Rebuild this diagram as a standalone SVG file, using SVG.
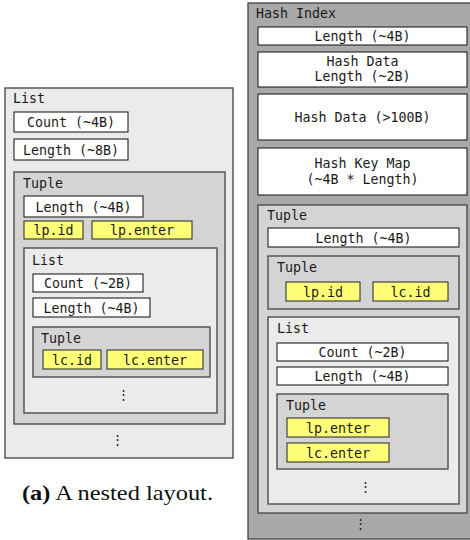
<svg xmlns="http://www.w3.org/2000/svg" width="470" height="540" viewBox="0 0 470 540">
<style>
.bg{fill:#ffffff}
.l1{fill:#ebebeb;stroke:#4d4d4d;stroke-width:1.4}
.t1{fill:#d4d4d4;stroke:#4d4d4d;stroke-width:1.4}
.h1{fill:#a9a9a9;stroke:#4d4d4d;stroke-width:1.4}
.w{fill:#ffffff;stroke:#222222;stroke-width:1.1}
.y{fill:#ffff77;stroke:#333333;stroke-width:1.1}
text{font-family:"DejaVu Sans Mono","Liberation Mono",monospace;font-size:13.3px;fill:#1a1a1a}
.c{text-anchor:middle}
.cap{font-family:"Liberation Serif","Times New Roman",serif;font-size:21px;fill:#111}
</style>
<rect class="bg" x="0" y="0" width="470" height="540"/>

<!-- Left: nested layout -->
<g id="left-list">
<rect class="l1" x="5" y="88" width="228" height="370"/>
<text x="13" y="103">List</text>
<text class="c" x="117" y="444">⋮</text>
</g>
<g id="left-count4">
<rect class="w" x="14" y="112" width="114" height="20"/>
<text class="c" x="71" y="127">Count (~4B)</text>
</g>
<g id="left-length8">
<rect class="w" x="14" y="139" width="114" height="21"/>
<text class="c" x="71" y="154.5">Length (~8B)</text>
</g>
<g id="left-tuple">
<rect class="t1" x="14" y="172" width="211" height="252"/>
<text x="23" y="188">Tuple</text>
</g>
<g id="left-tuple-length4">
<rect class="w" x="24" y="196" width="119" height="21"/>
<text class="c" x="83.5" y="211.5">Length (~4B)</text>
</g>
<g id="left-lpid">
<rect class="y" x="24" y="221" width="59" height="18"/>
<text class="c" x="53.5" y="235">lp.id</text>
</g>
<g id="left-lpenter">
<rect class="y" x="92" y="221" width="100" height="18"/>
<text class="c" x="142" y="235">lp.enter</text>
</g>
<g id="left-inner-list">
<rect class="l1" x="24" y="248" width="193" height="165"/>
<text x="32" y="265">List</text>
<text class="c" x="123" y="399">⋮</text>
</g>
<g id="left-count2">
<rect class="w" x="33" y="274" width="110" height="18"/>
<text class="c" x="88" y="288">Count (~2B)</text>
</g>
<g id="left-inner-length4">
<rect class="w" x="33" y="298" width="117" height="19"/>
<text class="c" x="91.5" y="312.5">Length (~4B)</text>
</g>
<g id="left-inner-tuple">
<rect class="t1" x="33" y="327" width="177" height="50"/>
<text x="41" y="343">Tuple</text>
</g>
<g id="left-lcid">
<rect class="y" x="43" y="350" width="58" height="19"/>
<text class="c" x="72" y="364.5">lc.id</text>
</g>
<g id="left-lcenter">
<rect class="y" x="107" y="350" width="96" height="19"/>
<text class="c" x="155" y="364.5">lc.enter</text>
</g>
<text class="cap" x="22" y="500" textLength="191" lengthAdjust="spacingAndGlyphs"><tspan font-weight="bold">(a)</tspan> A nested layout.</text>

<!-- Right: hash index -->
<g id="hash-index">
<rect class="h1" x="248" y="3" width="230" height="536"/>
<text x="256" y="18">Hash Index</text>
<text class="c" x="360" y="528">⋮</text>
</g>
<g id="hash-length4">
<rect class="w" x="258" y="27" width="209" height="18"/>
<text class="c" x="362.5" y="41">Length (~4B)</text>
</g>
<g id="hash-data-length">
<rect class="w" x="258" y="52" width="209" height="35"/>
<text class="c" x="362.5" y="66">Hash Data</text>
<text class="c" x="362.5" y="81">Length (~2B)</text>
</g>
<g id="hash-data">
<rect class="w" x="258" y="94" width="209" height="46"/>
<text class="c" x="362.5" y="122">Hash Data (&gt;100B)</text>
</g>
<g id="hash-key-map">
<rect class="w" x="258" y="148" width="209" height="47"/>
<text class="c" x="362.5" y="168">Hash Key Map</text>
<text class="c" x="362.5" y="184">(~4B * Length)</text>
</g>
<g id="r-tuple">
<rect class="t1" x="258" y="205" width="209" height="308"/>
<text x="267" y="220">Tuple</text>
</g>
<g id="r-tuple-length4">
<rect class="w" x="268" y="228" width="191" height="19"/>
<text class="c" x="363.5" y="242.5">Length (~4B)</text>
</g>
<g id="r-id-tuple">
<rect class="t1" x="268" y="256" width="191" height="53"/>
<text x="277" y="272">Tuple</text>
</g>
<g id="r-lpid">
<rect class="y" x="286" y="282" width="74" height="19"/>
<text class="c" x="323" y="296.5">lp.id</text>
</g>
<g id="r-lcid">
<rect class="y" x="373" y="282" width="75" height="19"/>
<text class="c" x="410.5" y="296.5">lc.id</text>
</g>
<g id="r-list">
<rect class="l1" x="268" y="317" width="191" height="187"/>
<text x="277" y="333">List</text>
<text class="c" x="365" y="491">⋮</text>
</g>
<g id="r-count2">
<rect class="w" x="277" y="343" width="171" height="18"/>
<text class="c" x="362.5" y="357">Count (~2B)</text>
</g>
<g id="r-length4">
<rect class="w" x="277" y="367" width="171" height="18"/>
<text class="c" x="362.5" y="381">Length (~4B)</text>
</g>
<g id="r-enter-tuple">
<rect class="t1" x="277" y="394" width="171" height="75"/>
<text x="286" y="410">Tuple</text>
</g>
<g id="r-lpenter">
<rect class="y" x="287" y="418" width="102" height="19"/>
<text class="c" x="338" y="432.5">lp.enter</text>
</g>
<g id="r-lcenter">
<rect class="y" x="287" y="443" width="102" height="19"/>
<text class="c" x="338" y="457.5">lc.enter</text>
</g>
<g id="connectors"></g>
</svg>
